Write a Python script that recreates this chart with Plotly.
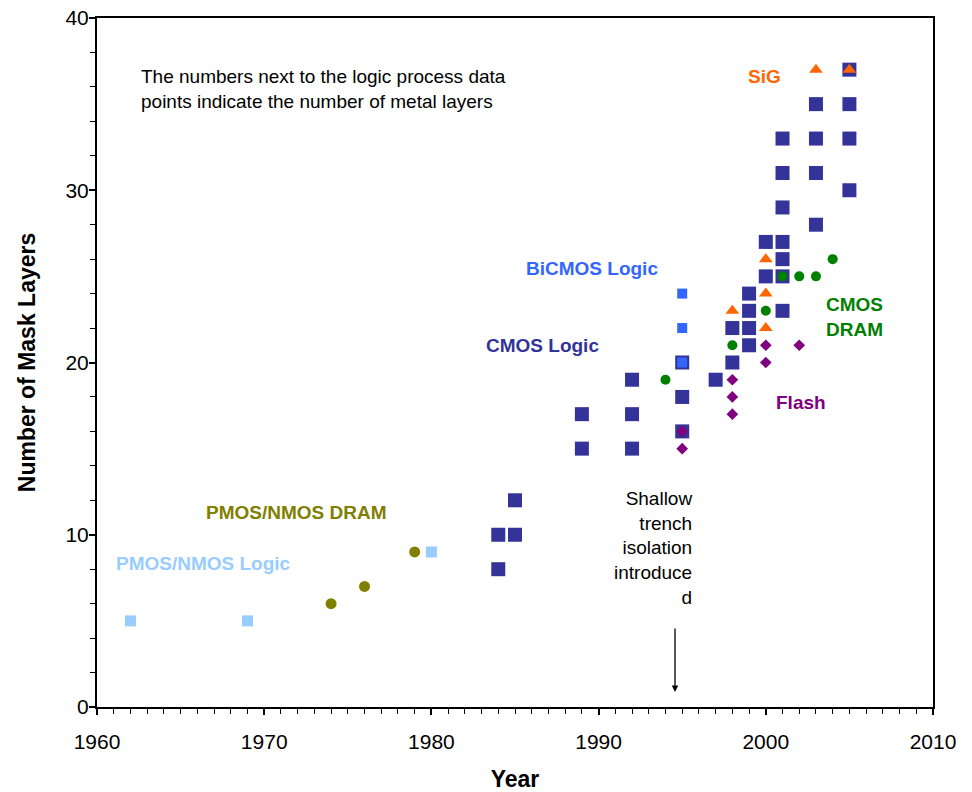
import plotly.graph_objects as go

# ---- data ----
cmos_logic_year = [1984, 1984, 1985, 1985, 1989, 1989, 1992, 1992, 1992, 1995, 1995, 1995,
                   1997, 1998, 1998, 1999, 1999, 1999, 1999, 2000, 2000,
                   2001, 2001, 2001, 2001, 2001, 2001, 2001,
                   2003, 2003, 2003, 2003, 2005, 2005, 2005, 2005]
cmos_logic_layers = [8, 10, 10, 12, 15, 17, 15, 17, 19, 16, 18, 20,
                     19, 20, 22, 21, 22, 23, 24, 25, 27,
                     23, 25, 26, 27, 29, 31, 33,
                     28, 31, 33, 35, 30, 33, 35, 37]

bicmos_year = [1995, 1995, 1995]
bicmos_layers = [20, 22, 24]

pmos_logic_year = [1962, 1969, 1980]
pmos_logic_layers = [5, 5, 9]

pmos_dram_year = [1974, 1976, 1979]
pmos_dram_layers = [6, 7, 9]

cmos_dram_year = [1994, 1998, 2000, 2001, 2002, 2003, 2004]
cmos_dram_layers = [19, 21, 23, 25, 25, 25, 26]

flash_year = [1995, 1995, 1998, 1998, 1998, 2000, 2000, 2002]
flash_layers = [15, 16, 17, 18, 19, 20, 21, 21]

sig_year = [1998, 2000, 2000, 2000, 2003, 2005]
sig_layers = [23, 22, 24, 26, 37, 37]

x_range = [1960, 2010]
y_range = [0, 40]
x_ticks = [1960, 1970, 1980, 1990, 2000, 2010]
y_ticks = [0, 10, 20, 30, 40]

FONT = "Liberation Sans, Arial, sans-serif"

fig = go.Figure()

def add(xs, ys, symbol, color, size, name):
    fig.add_trace(go.Scatter(x=xs, y=ys, mode="markers", name=name,
                             marker=dict(symbol=symbol, color=color, size=size,
                                         line=dict(width=0)),
                             showlegend=False, cliponaxis=False))

add(cmos_logic_year, cmos_logic_layers, "square", "#333399", 14, "CMOS Logic")
add(bicmos_year, bicmos_layers, "square", "#3366FF", 10, "BiCMOS Logic")
add(pmos_logic_year, pmos_logic_layers, "square", "#99CCFF", 11, "PMOS/NMOS Logic")
add(pmos_dram_year, pmos_dram_layers, "circle", "#808000", 11, "PMOS/NMOS DRAM")
add(cmos_dram_year, cmos_dram_layers, "circle", "#008000", 10, "CMOS DRAM")
add(flash_year, flash_layers, "diamond", "#800080", 9, "Flash")
add(sig_year, sig_layers, "triangle-up", "#FF6600", 12, "SiG")

def label(text, x, y, color, size=19, bold=True, align="center", xanchor="center"):
    t = f"<b>{text}</b>" if bold else text
    fig.add_annotation(x=x, y=y, xref="x", yref="y", text=t, showarrow=False,
                       font=dict(family=FONT, size=size, color=color),
                       align=align, xanchor=xanchor, yanchor="middle")

label("SiG", 1999.95, 36.63, "#FF6600")
label("BiCMOS Logic", 1989.6, 25.43, "#3366FF")
label("CMOS Logic", 1986.67, 20.96, "#333399")
label("CMOS<br>DRAM", 2005.3, 22.64, "#008000")
label("Flash", 2002.1, 17.65, "#800080")
label("PMOS/NMOS DRAM", 1971.96, 11.32, "#808000")
label("PMOS/NMOS Logic", 1966.34, 8.36, "#99CCFF")
label("The numbers next to the logic process data<br>points indicate the number of metal layers",
      1962.5, 35.85, "#000000", size=19, bold=False, align="left", xanchor="left")
label("Shallow<br>trench<br>isolation<br>introduce<br>d",
      1995.68, 9.23, "#000000", size=19, bold=False, align="right", xanchor="right")

fig.add_annotation(x=1994.57, y=0.87, ax=1994.57, ay=4.64, xref="x", yref="y",
                   axref="x", ayref="y", text="", showarrow=True,
                   arrowhead=2, arrowsize=1, arrowwidth=1.3, arrowcolor="#000000")

axis_common = dict(showline=True, linecolor="#000000", linewidth=2, mirror=True,
                   ticks="outside", tickcolor="#000000", tickwidth=1.5, ticklen=6,
                   showgrid=False, zeroline=False, automargin=False,
                   tickfont=dict(family=FONT, size=21, color="#000000"))

fig.update_xaxes(range=x_range, tickvals=x_ticks, ticklabelstandoff=9,
                 minor=dict(dtick=1, ticks="outside", ticklen=5, tickcolor="#000000", tickwidth=1),
                 title=dict(text="<b>Year</b>", font=dict(family=FONT, size=23, color="#000000"),
                            standoff=20),
                 **axis_common)
fig.update_yaxes(range=y_range, tickvals=y_ticks, ticklabelstandoff=-4,
                 minor=dict(dtick=2, ticks="outside", ticklen=5, tickcolor="#000000", tickwidth=1),
                 title=dict(text="<b>Number of Mask Layers</b>",
                            font=dict(family=FONT, size=23, color="#000000"), standoff=23),
                 **axis_common)

fig.update_layout(width=972, height=792, autosize=False,
                  margin=dict(l=97, r=39, t=18, b=85, autoexpand=False),
                  plot_bgcolor="#FFFFFF", paper_bgcolor="#FFFFFF",
                  font=dict(family=FONT))

fig.write_html("out.html")
